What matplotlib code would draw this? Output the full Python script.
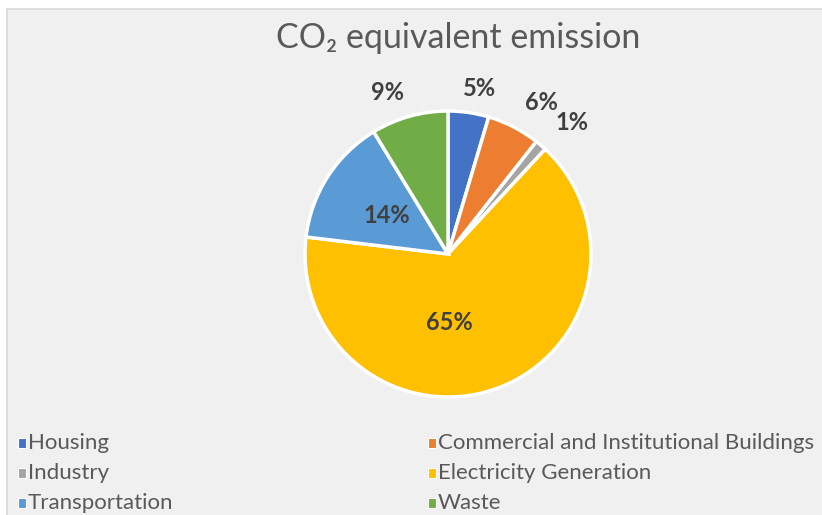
import matplotlib
matplotlib.use("Agg")
import matplotlib.pyplot as plt
from matplotlib.patches import Rectangle

plt.rcParams['font.family'] = ['Lato', 'DejaVu Sans']

# data
categories = ["Housing", "Commercial and Institutional Buildings", "Industry",
              "Electricity Generation", "Transportation", "Waste"]
shares = [4.6, 6.0, 1.3, 65.0, 14.4, 8.7]
colors = ["#4472C4", "#ED7D31", "#A5A5A5", "#FFC000", "#5B9BD5", "#70AD47"]

# label positions (pie units, radius = 1)
label_pos = [(0.22, 1.16), (0.65, 1.06), (0.87, 0.92),
             (0.01, -0.48), (-0.43, 0.27), (-0.42, 1.13)]

W, H = 822, 515
fig = plt.figure(figsize=(W / 100, H / 100), dpi=100)
fig.patch.set_facecolor("white")

# chart area box
fig.patches.append(Rectangle((7 / W, -0.01), 1, 1.01 - 9 / H, transform=fig.transFigure,
                             facecolor="#f0f0f0", edgecolor="#d9d9d9", lw=1.2, zorder=-5))

cx, cy, r = 448, 254, 143
ax = fig.add_axes([(cx - r) / W, 1 - (cy + r) / H, 2 * r / W, 2 * r / H])
ax.set_facecolor("none")

wedges, _ = ax.pie(shares, colors=colors, startangle=90, counterclock=False,
                   wedgeprops=dict(edgecolor="white", linewidth=2.5))
ax.set_xlim(-1, 1)
ax.set_ylim(-1, 1)
ax.axis("off")

for v, (x, y) in zip(shares, label_pos):
    ax.text(x, y, f"{v:.0f}%", ha="center", va="center", fontsize=17,
            fontweight="bold", color="#404040", clip_on=False)

fig.text(458 / W, 1 - 38 / H, "CO\u2082 equivalent emission",
         ha="center", va="center", fontsize=24.5, color="#595959")

# legend, row-major in two columns
col_x = [18, 428]
row_y = [443, 473, 503]
for i, (name, c) in enumerate(zip(categories, colors)):
    x = col_x[i % 2]
    y = row_y[i // 2]
    fig.patches.append(Rectangle((x / W, 1 - (y + 5) / H), 8 / W, 10 / H,
                                 transform=fig.transFigure, facecolor=c,
                                 edgecolor="white", lw=0.8))
    fig.text((x + 10) / W, 1 - y / H, name, ha="left", va="center",
             fontsize=16, color="#595959")

fig.savefig("out.png", dpi=100)
